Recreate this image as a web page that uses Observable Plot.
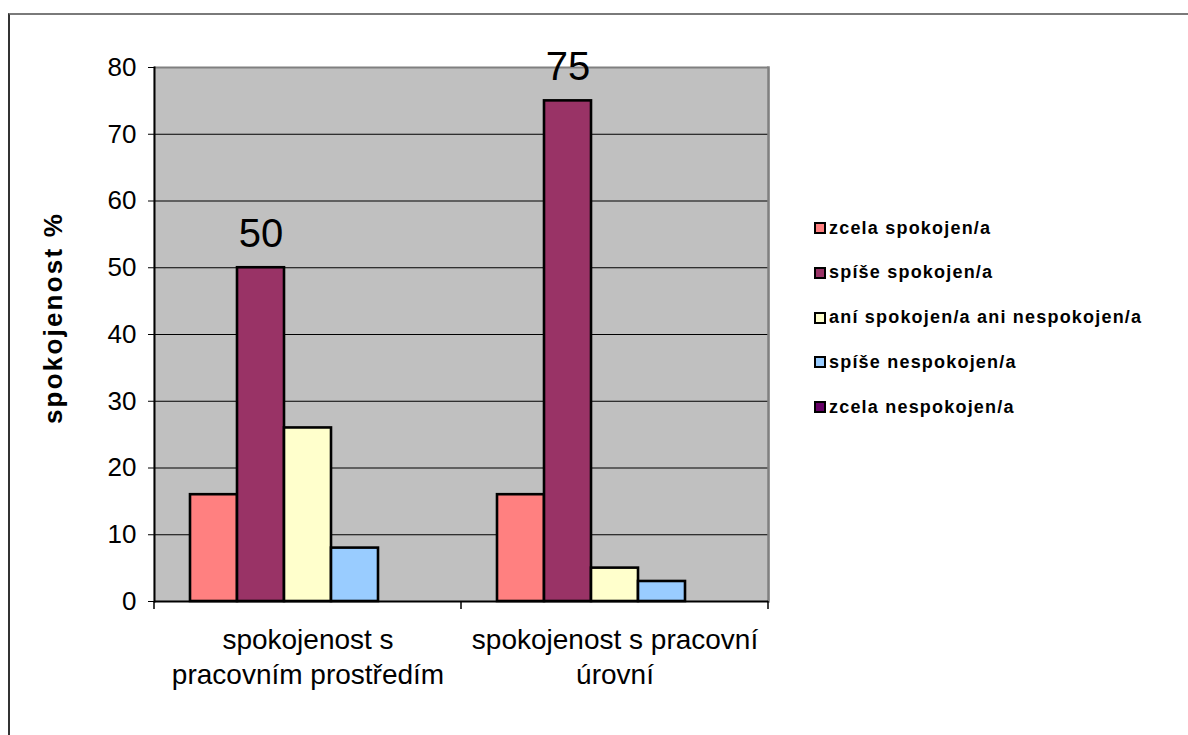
<!DOCTYPE html>
<html>
<head>
<meta charset="utf-8">
<script src="https://cdn.jsdelivr.net/npm/d3@7"></script>
<script src="https://cdn.jsdelivr.net/npm/@observablehq/plot@0.6"></script>
<style>
  html, body { margin: 0; padding: 0; background: #fff; overflow: hidden; }
  #wrap { position: relative; width: 1188px; height: 735px; font-family: "Liberation Sans", Arial, sans-serif; }
  #sheet { position: absolute; left: 8px; top: 13px; right: -20px; bottom: -20px;
           border-top: 2px solid #7a7a7a; border-left: 2px solid #333; }
  #chart { position: absolute; left: 0; top: 0; }
  #ytitle { position: absolute; left: -97px; top: 303px; width: 300px; height: 30px; line-height: 30px;
            text-align: center; font-weight: bold; font-size: 26px; letter-spacing: 2.2px;
            transform: rotate(-90deg); color: #000; }
  #legend { position: absolute; left: 814px; top: 0; }
  .row { position: absolute; left: 0; height: 22px; display: flex; align-items: center; white-space: nowrap;
         font-weight: bold; font-size: 18px; letter-spacing: 1.2px; color: #000; }
  .sw { width: 8px; height: 8px; border: 2px solid #000; margin-right: 3px; }
</style>
</head>
<body>
<div id="wrap">
  <div id="sheet"></div>
  <div id="chart"></div>
  <div id="ytitle">spokojenost %</div>
  <div id="legend"></div>
</div>
<script>
// Categories on the x axis (tick labels wrap onto two lines)
const groups = ["prostředí", "úroveň"];
const groupLabels = ["spokojenost s\npracovním prostředím", "spokojenost s pracovní\núrovní"];

// Answer categories (series)
const series = [
  "zcela spokojen/a",
  "spíše spokojen/a",
  "aní spokojen/a ani nespokojen/a",
  "spíše nespokojen/a",
  "zcela nespokojen/a"
];
const seriesColors = ["#FF8080", "#993366", "#FFFFCC", "#99CCFF", "#660066"];

// Percentages per category, in series order
const valuesProstredi = [16, 50, 26, 8, 0];
const valuesUroven = [16, 75, 5, 3, 0];

// Value axis ticks
const yTicks = [0, 10, 20, 30, 40, 50, 60, 70, 80];

// Series whose bars carry a value label
const labelledSeries = "spíše spokojen/a";

const valueTable = [valuesProstredi, valuesUroven];
const data = groups.flatMap((g, gi) =>
  series.map((s, si) => ({group: g, series: s, value: valueTable[gi][si]}))
);

const plot = Plot.plot({
  width: 1188,
  height: 735,
  marginTop: 67,
  marginRight: 420,
  marginBottom: 134,
  marginLeft: 153,
  style: {
    fontFamily: "'Liberation Sans', Arial, sans-serif",
    fontSize: "26px",
    color: "#000",
    background: "transparent",
    overflow: "visible"
  },
  fx: {domain: groups, paddingInner: 0, paddingOuter: 0, label: null, axis: null},
  x: {domain: series, paddingInner: 0, paddingOuter: 0.75, axis: null},
  y: {domain: [0, 80], label: null, axis: null},
  color: {domain: series, range: seriesColors},
  marks: [
    // plot area background; each facet's fill overlaps its neighbour to avoid a seam
    Plot.frame({fill: "#C0C0C0", stroke: null, insetLeft: -1, insetRight: -1}),
    Plot.gridY(yTicks.filter(t => t > 0 && t < 80), {stroke: "#000", strokeOpacity: 1, strokeWidth: 1.2}),
    Plot.gridY([80], {stroke: "#808080", strokeOpacity: 1, strokeWidth: 2}),
    Plot.frame({anchor: "right", stroke: "#808080", strokeWidth: 2.5, fx: () => groups[groups.length - 1]}),
    Plot.frame({anchor: "left", stroke: "#000", strokeWidth: 2, fx: () => groups[0]}),
    Plot.barY(data, {
      fx: "group", x: "series", y: "value",
      fill: "series", stroke: "#000", strokeWidth: 2.6
    }),
    Plot.ruleY([0], {stroke: "#000", strokeWidth: 2}),
    Plot.text(data.filter(d => d.series === labelledSeries), {
      fx: "group", x: "series", y: "value",
      text: d => String(d.value),
      lineAnchor: "bottom", dy: -21, fontSize: 40, fill: "#000"
    }),
    Plot.axisY({ticks: yTicks, tickSize: 6, tickPadding: 12, fontSize: 26, label: null, stroke: "#000"}),
    Plot.axisFx({
      anchor: "bottom",
      tickSize: 0, tickPadding: 22, fontSize: 28, lineHeight: 1.27, label: null,
      tickFormat: d => groupLabels[groups.indexOf(d)]
    })
  ]
});

// Category boundary ticks below the value axis
const fxScale = plot.scale("fx");
const yScale = plot.scale("y");
const edges = groups.map(g => fxScale.apply(g))
  .concat(fxScale.apply(groups[groups.length - 1]) + fxScale.bandwidth);
const y0 = yScale.apply(0);
d3.select(plot).append("g")
  .attr("stroke", "#000")
  .attr("stroke-width", 1.5)
  .selectAll("line")
  .data(edges)
  .join("line")
  .attr("x1", d => d).attr("x2", d => d)
  .attr("y1", y0).attr("y2", y0 + 8);

document.getElementById("chart").appendChild(plot);

// Legend on the right
const legend = d3.select("#legend");
legend.selectAll(".row")
  .data(series)
  .join("div")
  .attr("class", "row")
  .style("top", (d, i) => `${217 + i * 44.75}px`)
  .each(function (d, i) {
    const row = d3.select(this);
    row.append("div").attr("class", "sw").style("background", seriesColors[i]);
    row.append("span").text(d);
  });
</script>
</body>
</html>
